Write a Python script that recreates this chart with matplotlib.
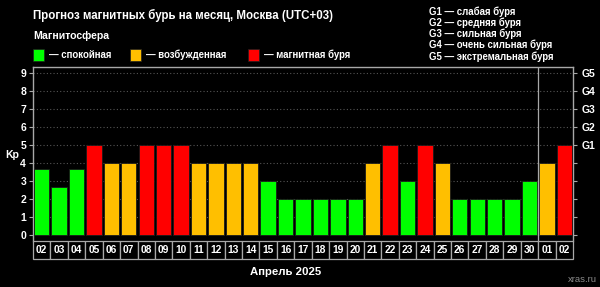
import matplotlib
matplotlib.use("Agg")
import matplotlib.pyplot as plt
from matplotlib.patches import Rectangle
import matplotlib.transforms as mtransforms

plt.rcParams["font.family"] = ["Liberation Sans", "DejaVu Sans"]
plt.rcParams["font.weight"] = "bold"

# данные прогноза
days = ["02", "03", "04", "05", "06", "07", "08", "09", "10", "11", "12", "13",
        "14", "15", "16", "17", "18", "19", "20", "21", "22", "23", "24", "25",
        "26", "27", "28", "29", "30", "01", "02"]
kp = [3.67, 2.67, 3.67, 5, 4, 4, 5, 5, 5, 4, 4, 4, 4, 3, 2, 2, 2, 2, 2, 4, 5,
      3, 5, 4, 2, 2, 2, 2, 3, 4, 5]
g_levels = ["G1", "G2", "G3", "G4", "G5"]
g_names = ["слабая буря", "средняя буря", "сильная буря",
           "очень сильная буря", "экстремальная буря"]
month_label = "Апрель 2025"
n_april = 29  # дней апреля на графике

GREEN = "#00ff00"
ORANGE = "#ffbf00"
RED = "#ff0000"
LINE = "#a8a8a8"
W, H = 600, 287


def color_for(v):
    if v >= 5:
        return RED
    if v >= 4:
        return ORANGE
    return GREEN


def fx(px):
    return px / W


def fy(py):
    return 1 - py / H


fig = plt.figure(figsize=(6, 2.87), dpi=100, facecolor="black")
ax = fig.add_axes([fx(33), fy(241), fx(573) - fx(33), fy(67) - fy(241)])
ax.set_facecolor("black")

x = list(range(len(days)))
ax.bar(x, kp, width=0.88, color=[color_for(v) for v in kp],
       edgecolor="#1a1a1a", linewidth=0.6, zorder=3)

ax.set_xlim(-0.5, len(days) - 0.5)
ax.set_ylim(-0.33, 9.35)

for yv in range(1, 10):
    ax.axhline(yv, color="#555555", linestyle=(0, (1, 2)), linewidth=0.8, zorder=1)

ax.axvline(n_april - 0.5, color=LINE, linewidth=0.9, zorder=4)

for s in ["left", "top", "right"]:
    ax.spines[s].set_color(LINE)
    ax.spines[s].set_linewidth(1.0)
ax.spines["bottom"].set_visible(False)

ax.set_xticks([])
ax.set_yticks(range(10))
ax.tick_params(axis="y", colors=LINE, labelcolor="white", labelsize=7.5,
               length=3, width=0.8, pad=2)

ax2 = ax.twinx()
ax2.set_ylim(ax.get_ylim())
ax2.set_yticks(range(10))
ax2.set_yticklabels(["", "", "", "", ""] + g_levels)
ax2.tick_params(axis="y", colors=LINE, labelcolor="white", labelsize=7.5,
                length=3, width=0.8, pad=3)
for s in ax2.spines.values():
    s.set_visible(False)

# подписи дней в ячейках
trans = mtransforms.blended_transform_factory(ax.transData, ax.transAxes)
cell_h = 18 / 174
for i, d in enumerate(days):
    ax.add_patch(Rectangle((i - 0.5, -cell_h), 1, cell_h, transform=trans,
                           facecolor="black", edgecolor=LINE, linewidth=0.9,
                           clip_on=False, zorder=5))
    ax.text(i, -cell_h / 2, d, transform=trans, ha="center", va="center",
            color="white", fontsize=7.4, clip_on=False, zorder=6)

fig.text(fx(12), fy(155), "Kp", color="white", fontsize=7.5,
         ha="center", va="center")

fig.text(fx(33), fy(15), "Прогноз магнитных бурь на месяц, Москва (UTC+03)",
         color="white", fontsize=8.3, ha="left", va="center")
fig.text(fx(33), fy(36), "Магнитосфера", color="white", fontsize=7.6,
         ha="left", va="center")

legend_items = [(33, GREEN, "— спокойная"), (130, ORANGE, "— возбужденная"),
                (248, RED, "— магнитная буря")]
for px, c, label in legend_items:
    fig.patches.append(Rectangle((fx(px), fy(61)), fx(11), 12 / H,
                                 transform=fig.transFigure, facecolor=c,
                                 edgecolor="#202020", linewidth=0.5))
    fig.text(fx(px + 16), fy(55), label, color="white", fontsize=6.95,
             ha="left", va="center")

g_y = [12, 23, 34, 45, 57]
for gy, lvl, name in zip(g_y, g_levels, g_names):
    fig.text(fx(429), fy(gy), f"{lvl} — {name}", color="white", fontsize=6.95,
             ha="left", va="center")

fig.text(fx(286), fy(272), month_label, color="white", fontsize=8.2,
         ha="center", va="center")
fig.text(fx(597), fy(279), "xras.ru", color="#8a8a8a", fontsize=6.8,
         ha="right", va="center", fontweight="normal")

fig.savefig("out.png", dpi=100, facecolor="black")
